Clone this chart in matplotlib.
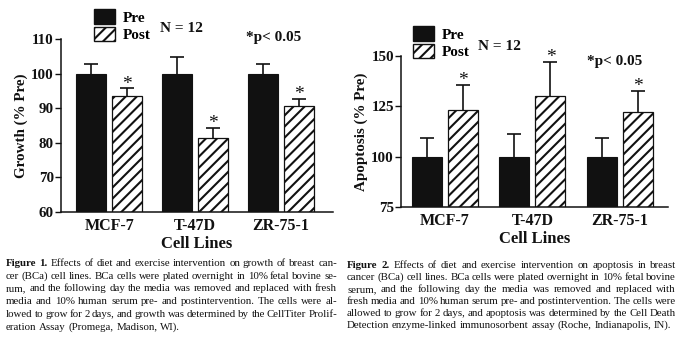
import numpy as np
import matplotlib
matplotlib.use("Agg")
import matplotlib.pyplot as plt
from matplotlib.patches import Patch

plt.rcParams["font.family"] = ["Liberation Serif", "DejaVu Serif"]
plt.rcParams["hatch.linewidth"] = 1.5
plt.rcParams["hatch.color"] = "#111111"

INK = "#111111"

cell_lines = ["MCF-7", "T-47D", "ZR-75-1"]

# Figure 1 - growth (% pre)
growth_pre = [100, 100, 100]
growth_pre_err = [2.7, 4.7, 2.8]
growth_post = [93.5, 81.3, 90.7]
growth_post_err = [2.2, 2.9, 2.1]

# Figure 2 - apoptosis (% pre)
apop_pre = [100, 100, 99.8]
apop_pre_err = [9.4, 11.1, 9.3]
apop_post = [123.0, 130.0, 122.2]
apop_post_err = [12.8, 16.9, 10.3]

caption1 = [
    "Figure 1.  Effects of diet and exercise intervention on growth of breast can-",
    "cer (BCa) cell lines. BCa cells were plated overnight in 10% fetal bovine se-",
    "rum, and the following day the media was removed and replaced with fresh",
    "media and 10% human serum pre- and postintervention. The cells were al-",
    "lowed to grow for 2 days, and growth was determined by the CellTiter Prolif-",
    "eration Assay (Promega, Madison, WI).",
]
caption2 = [
    "Figure 2. Effects of diet and exercise intervention on apoptosis in breast",
    "cancer (BCa) cell lines. BCa cells were plated overnight in 10% fetal bovine",
    "serum, and the following day the media was removed and replaced with",
    "fresh media and 10% human serum pre- and postintervention. The cells were",
    "allowed to grow for 2 days, and apoptosis was determined by the Cell Death",
    "Detection enzyme-linked immunosorbent assay (Roche, Indianapolis, IN).",
]

W, H = 680, 349
fig = plt.figure(figsize=(6.8, 3.49), dpi=100)


def px(x, y):
    return x / W, 1 - y / H


def panel(rect, pre, pre_err, post, post_err, ylim, yticks, ylabel, xlim, off, bw,
          leg_xy, n_xy, p_xy):
    ax = fig.add_axes(rect)
    x = np.arange(len(cell_lines))
    ax.bar(x - off, pre, bw, color=INK, edgecolor=INK, linewidth=0.8, zorder=2)
    ax.bar(x + off, post, bw, color="white", edgecolor=INK, linewidth=0.9,
           hatch="///", zorder=2)
    # one-sided (upper) error bars
    for xs, vals, errs in [(x - off, pre, pre_err), (x + off, post, post_err)]:
        tops = np.array(vals) + np.array(errs)
        ax.vlines(xs, vals, tops, color=INK, linewidth=1.2, zorder=1)
        ax.plot(xs, tops, ls="none", marker="_", markersize=10, mew=1.2, color=INK)
    for xi, v, e in zip(x + off, post, post_err):
        ax.annotate("*", (xi, v + e), xytext=(0, -3), textcoords="offset points",
                    ha="center", va="bottom", fontsize=14, color=INK)
    ax.set_xlim(*xlim)
    ax.set_ylim(*ylim)
    ax.set_yticks(yticks)
    ax.set_yticklabels([str(t) for t in yticks], fontweight="bold", fontsize=10.8, color=INK)
    ax.set_xticks(x)
    ax.set_xticklabels(cell_lines, fontweight="bold", fontsize=11.5, color=INK)
    ax.tick_params(axis="x", length=0, pad=4)
    ax.tick_params(axis="y", length=4, width=1, pad=1, color=INK)
    ax.set_xlabel("Cell Lines", fontweight="bold", fontsize=12, color=INK, labelpad=1.5)
    ax.set_ylabel(ylabel, fontweight="bold", fontsize=10.8, color=INK, labelpad=2.5)
    for s in ["top", "right"]:
        ax.spines[s].set_visible(False)
    for s in ["left", "bottom"]:
        ax.spines[s].set_linewidth(1.1)
        ax.spines[s].set_color(INK)
    handles = [Patch(facecolor=INK, edgecolor=INK, label="Pre"),
               Patch(facecolor="white", edgecolor=INK, hatch="///", label="Post")]
    fig.legend(handles=handles, loc="upper left", bbox_to_anchor=px(*leg_xy),
               frameon=False, prop={"weight": "bold", "size": 11},
               handlelength=1.4, handleheight=1.1, handletextpad=0.5,
               labelspacing=0.15, borderpad=0, borderaxespad=0)
    fig.text(*px(*n_xy), "N = 12", fontsize=11, fontweight="bold", color=INK,
             ha="left", va="center")
    fig.text(*px(*p_xy), "*p< 0.05", fontsize=11, fontweight="bold", color=INK,
             ha="left", va="center")
    return ax


panel([61 / W, 1 - 212 / H, 272 / W, 173 / H], growth_pre, growth_pre_err,
      growth_post, growth_post_err, (60, 110), [60, 70, 80, 90, 100, 110],
      "Growth (% Pre)", (-0.56, 2.605), 0.21, 0.35,
      (94, 9), (160, 28), (246, 37))
panel([401 / W, 1 - 207 / H, 267 / W, 151 / H], apop_pre, apop_pre_err,
      apop_post, apop_post_err, (75, 150), [75, 100, 125, 150],
      "Apoptosis (% Pre)", (-0.503, 2.55), 0.206, 0.343,
      (413, 26), (478, 46), (587, 62))

# justified captions
renderer = fig.canvas.get_renderer()


def caption(lines, x0, x1, y_first, dy, size=7.8):
    space = size * 0.25 * 100 / 72
    for i, line in enumerate(lines):
        words = line.split()
        texts = []
        for j, w in enumerate(words):
            bold = i == 0 and j < 2
            t = fig.text(0, 0, w, fontsize=size, color=INK,
                         fontweight="bold" if bold else "normal",
                         ha="left", va="baseline")
            texts.append(t)
        widths = [t.get_window_extent(renderer).width for t in texts]
        gap = (x1 - x0 - sum(widths)) / (len(words) - 1)
        if i == len(lines) - 1:
            gap = min(gap, space)
        x = x0
        y = y_first + i * dy
        for t, w in zip(texts, widths):
            t.set_position(px(x, y))
            x += w + gap


caption(caption1, 6, 337, 266, 12.7)
caption(caption2, 347, 676, 268, 11.9)

fig.savefig("out.png", dpi=100)
